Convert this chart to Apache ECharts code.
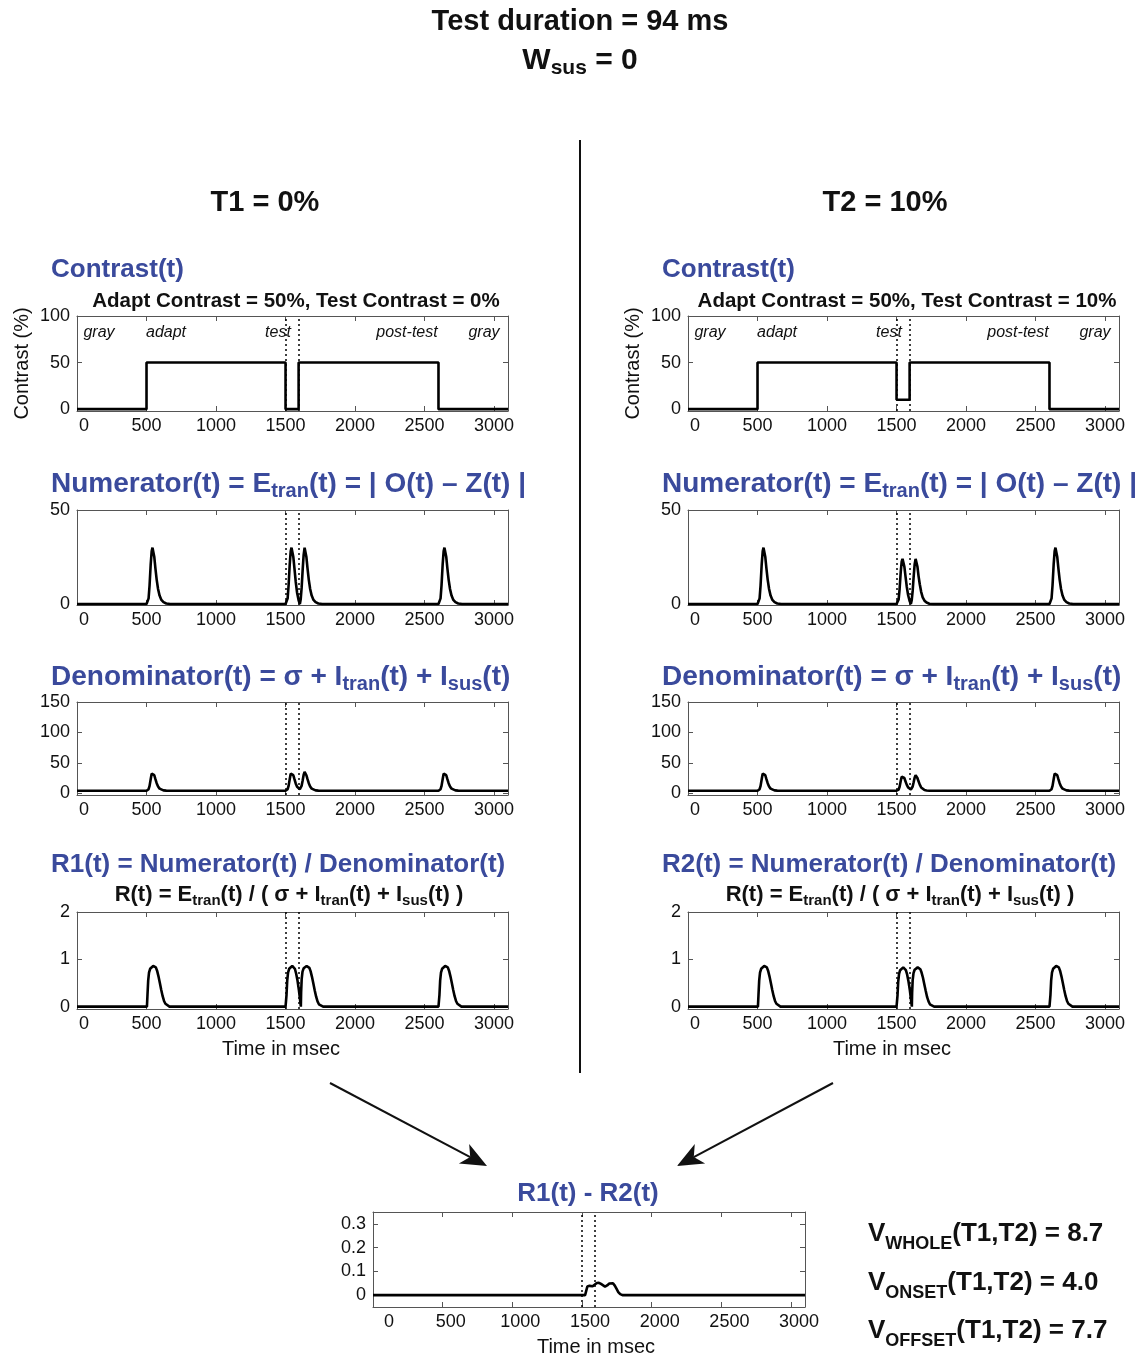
<!DOCTYPE html>
<html>
<head>
<meta charset="utf-8">
<script src="https://cdn.jsdelivr.net/npm/echarts@6/dist/echarts.min.js"></script>
<style>
  html, body { margin: 0; padding: 0; background: #fff; }
  #chart { width: 1144px; height: 1354px; }
</style>
</head>
<body>
<div id="chart"></div>
<script>
// ---- stimulus settings ----
const testDurationMs = 94;
const wSus = 0;
const adaptContrast = 50;
const testContrasts = [0, 10];          // T1, T2
const testWindow = [1500, 1594];        // test onset / offset (ms)
const timeTicks = [0, 500, 1000, 1500, 2000, 2500, 3000];
const phaseNames = ['gray', 'adapt', 'test', 'post-test', 'gray'];
const vNames = ['WHOLE', 'ONSET', 'OFFSET'];
const vValues = [8.7, 4.0, 7.7];

// ---- time courses: [time (ms), value] ----
const contrastT1 = [[0,0],[500,0],[500,50],[1500,50],[1500,0],[1594,0],[1594,50],[2600,50],[2600,0],[3100,0]];
const contrastT2 = [[0,0],[500,0],[500,50],[1500,50],[1500,10],[1594,10],[1594,50],[2600,50],[2600,0],[3100,0]];

const numeratorT1 = [[0,0],[500,0],[508,0.5],[515,3],[522,10],[530,21],[537,28],[543,30],[549,29],[556,25],[564,19],[573,13],[583,8],[594,4.5],[607,2.2],[622,1],[642,0.3],[670,0],
  [1500,0],[1508,0.5],[1515,3],[1522,10],[1530,21],[1537,28],[1543,30],[1549,29],[1556,25],[1564,19],[1573,12],[1583,6],[1594,2],[1603,0],
  [1609,2.5],[1616,9],[1623,18],[1630,26],[1637,30],[1643,29],[1650,25],[1658,19],[1667,13],[1677,8],[1688,4.5],[1701,2.2],[1716,1],[1736,0.3],[1764,0],
  [2600,0],[2608,0.5],[2615,3],[2622,10],[2630,21],[2637,28],[2643,30],[2649,29],[2656,25],[2664,19],[2673,13],[2683,8],[2694,4.5],[2707,2.2],[2722,1],[2742,0.3],[2770,0],[3100,0]];
const numeratorT2 = [[0,0],[500,0],[508,0.5],[515,3],[522,10],[530,21],[537,28],[543,30],[549,29],[556,25],[564,19],[573,13],[583,8],[594,4.5],[607,2.2],[622,1],[642,0.3],[670,0],
  [1500,0],[1508,0.4],[1515,2.4],[1522,8],[1530,17],[1537,22.5],[1543,24],[1549,23.2],[1556,20],[1564,15],[1573,9.5],[1583,4.8],[1594,1.6],[1603,0],
  [1609,2],[1616,7],[1623,14.5],[1630,21],[1637,24],[1643,23.2],[1650,20],[1658,15],[1667,10.5],[1677,6.5],[1688,3.6],[1701,1.8],[1716,0.8],[1736,0.2],[1764,0],
  [2600,0],[2608,0.5],[2615,3],[2622,10],[2630,21],[2637,28],[2643,30],[2649,29],[2656,25],[2664,19],[2673,13],[2683,8],[2694,4.5],[2707,2.2],[2722,1],[2742,0.3],[2770,0],[3100,0]];

const denominatorT1 = [[0,4],[500,4],[508,4.4],[515,6.5],[522,12],[530,23],[537,32],[543,35],[549,34],[556,29.5],[564,23],[573,16.5],[583,11],[594,7.5],[607,5.5],[622,4.6],[642,4.2],[670,4],
  [1500,4],[1508,4.4],[1515,6.5],[1522,12],[1530,23],[1537,32],[1543,35],[1549,34],[1556,29.5],[1564,23],[1573,16],[1583,10.5],[1594,7.5],[1603,6.5],
  [1609,7.5],[1616,12.5],[1623,21],[1630,30],[1637,35],[1643,34],[1650,29.5],[1658,23],[1667,16.5],[1677,11],[1688,7.5],[1701,5.5],[1716,4.6],[1736,4.2],[1764,4],
  [2600,4],[2608,4.4],[2615,6.5],[2622,12],[2630,23],[2637,32],[2643,35],[2649,34],[2656,29.5],[2664,23],[2673,16.5],[2683,11],[2694,7.5],[2707,5.5],[2722,4.6],[2742,4.2],[2770,4],[3100,4]];
const denominatorT2 = [[0,4],[500,4],[508,4.4],[515,6.5],[522,12],[530,23],[537,32],[543,35],[549,34],[556,29.5],[564,23],[573,16.5],[583,11],[594,7.5],[607,5.5],[622,4.6],[642,4.2],[670,4],
  [1500,4],[1508,4.3],[1515,6],[1522,10.5],[1530,20],[1537,27],[1543,29.5],[1549,28.5],[1556,25],[1564,19.5],[1573,14],[1583,9.5],[1594,7],[1603,6],
  [1609,7],[1616,11],[1623,18],[1630,25.5],[1637,29.5],[1643,28.5],[1650,25],[1658,19.5],[1667,14],[1677,9.5],[1688,6.8],[1701,5.2],[1716,4.5],[1736,4.1],[1764,4],
  [2600,4],[2608,4.4],[2615,6.5],[2622,12],[2630,23],[2637,32],[2643,35],[2649,34],[2656,29.5],[2664,23],[2673,16.5],[2683,11],[2694,7.5],[2707,5.5],[2722,4.6],[2742,4.2],[2770,4],[3100,4]];

const responseT1 = [[0,0],[503,0],[507,0.25],[512,0.55],[518,0.72],[526,0.8],[536,0.84],[548,0.86],[558,0.86],[567,0.83],[576,0.76],[586,0.64],[596,0.5],[606,0.35],[616,0.22],[626,0.12],[636,0.06],[648,0.02],[665,0],
  [1500,0],[1503,0],[1507,0.25],[1512,0.55],[1518,0.72],[1526,0.8],[1536,0.84],[1548,0.86],[1558,0.85],[1567,0.8],[1576,0.7],[1586,0.55],[1596,0.35],[1603,0.18],[1608,0.05],[1610,0],
  [1612,0.3],[1616,0.58],[1622,0.74],[1630,0.81],[1640,0.85],[1652,0.86],[1662,0.85],[1671,0.82],[1680,0.75],[1690,0.63],[1700,0.49],[1710,0.34],[1720,0.21],[1730,0.11],[1740,0.05],[1752,0.015],[1770,0],
  [2600,0],[2603,0],[2607,0.25],[2612,0.55],[2618,0.72],[2626,0.8],[2636,0.84],[2648,0.86],[2658,0.86],[2667,0.83],[2676,0.76],[2686,0.64],[2696,0.5],[2706,0.35],[2716,0.22],[2726,0.12],[2736,0.06],[2748,0.02],[2765,0],[3100,0]];
const responseT2 = [[0,0],[503,0],[507,0.25],[512,0.55],[518,0.72],[526,0.8],[536,0.84],[548,0.86],[558,0.86],[567,0.83],[576,0.76],[586,0.64],[596,0.5],[606,0.35],[616,0.22],[626,0.12],[636,0.06],[648,0.02],[665,0],
  [1500,0],[1503,0],[1507,0.24],[1512,0.53],[1518,0.69],[1526,0.77],[1536,0.81],[1548,0.83],[1558,0.82],[1567,0.77],[1576,0.68],[1586,0.53],[1596,0.34],[1603,0.17],[1608,0.05],[1610,0],
  [1612,0.29],[1616,0.56],[1622,0.71],[1630,0.78],[1640,0.82],[1652,0.83],[1662,0.82],[1671,0.79],[1680,0.72],[1690,0.61],[1700,0.47],[1710,0.33],[1720,0.2],[1730,0.11],[1740,0.05],[1752,0.015],[1770,0],
  [2600,0],[2603,0],[2607,0.25],[2612,0.55],[2618,0.72],[2626,0.8],[2636,0.84],[2648,0.86],[2658,0.86],[2667,0.83],[2676,0.76],[2686,0.64],[2696,0.5],[2706,0.35],[2716,0.22],[2726,0.12],[2736,0.06],[2748,0.02],[2765,0],[3100,0]];

const responseDiff = [[0,0],[1522,0],[1530,0.018],[1538,0.036],[1546,0.042],[1554,0.039],[1564,0.035],[1576,0.037],[1590,0.045],[1606,0.051],[1621,0.052],[1636,0.047],[1650,0.04],[1665,0.036],[1680,0.041],[1696,0.049],[1710,0.053],[1722,0.05],[1735,0.04],[1748,0.026],[1760,0.013],[1774,0.004],[1790,0],[3100,0]];

// ---- look ----
const FONT = '"Liberation Sans", Arial, Helvetica, sans-serif';
const BLUE = '#3a4a9c';
const INK = '#111111';
const FRAME = '#555555';

// ---- panel layout ----
const colLeft = [77, 688];
const rows = [
  { top: 316, height: 95, min: -2, max: 100, ticks: [0, 50, 100] },
  { top: 510, height: 95, min: -0.5, max: 50, ticks: [0, 50] },
  { top: 702, height: 93, min: -3, max: 150, ticks: [0, 50, 100, 150] },
  { top: 912, height: 97, min: -0.05, max: 2, ticks: [0, 1, 2] }
];
const columnData = [
  [contrastT1, numeratorT1, denominatorT1, responseT1],
  [contrastT2, numeratorT2, denominatorT2, responseT2]
];

const grids = [], xAxes = [], yAxes = [], series = [];

// x labels: the zero label sits a little right of its tick; shiftAll nudges every label
function timeLabel(zeroPad, allPad) {
  const base = { fontSize: 18, color: INK, fontFamily: FONT };
  return {
    customValues: timeTicks, margin: 6, fontSize: 18, color: INK, fontFamily: FONT,
    formatter: v => (v === 0 ? '{z|0}' : '{n|' + v + '}'),
    rich: {
      z: Object.assign({ padding: [0, 0, 0, zeroPad] }, base),
      n: Object.assign({ padding: [0, 0, 0, allPad] }, base)
    }
  };
}

function addPanel(rect, yRange, data, yName, labelShift) {
  const gi = grids.length;
  grids.push({ left: rect.left, top: rect.top, width: rect.width, height: rect.height,
    containLabel: false, outerBoundsMode: 'none', show: false });
  const line = { show: true, onZero: false, lineStyle: { color: FRAME, width: 1 } };
  const tick = (vals) => ({ show: true, inside: true, length: 5, customValues: vals, lineStyle: { color: FRAME, width: 1 } });
  const xi = xAxes.length, yi = yAxes.length;
  const xBase = { type: 'value', gridIndex: gi, min: 0, max: 3100, axisLine: line, splitLine: { show: false } };
  xAxes.push(Object.assign({}, xBase, { position: 'bottom', axisTick: tick(timeTicks),
    axisLabel: timeLabel(labelShift[0], labelShift[1]) }));
  xAxes.push(Object.assign({}, xBase, { position: 'top', axisTick: tick(timeTicks), axisLabel: { show: false } }));
  const yBase = { type: 'value', gridIndex: gi, min: yRange.min, max: yRange.max, axisLine: line, splitLine: { show: false } };
  const yLeft = Object.assign({}, yBase, { position: 'left', axisTick: tick(yRange.ticks),
    axisLabel: { customValues: yRange.ticks, formatter: v => String(v), fontSize: 18, color: INK, fontFamily: FONT, margin: 7 } });
  if (yName) {
    Object.assign(yLeft, { name: yName, nameLocation: 'middle', nameGap: 45,
      nameTextStyle: { fontSize: 20, color: INK, fontFamily: FONT } });
  }
  yAxes.push(yLeft);
  yAxes.push(Object.assign({}, yBase, { position: 'right', axisTick: tick(yRange.ticks), axisLabel: { show: false } }));
  series.push({
    type: 'line', xAxisIndex: xi, yAxisIndex: yi, data: data,
    showSymbol: false, symbol: 'none', animation: false,
    lineStyle: { color: '#000', width: 2.6 },
    markLine: {
      silent: true, symbol: ['none', 'none'], animation: false,
      label: { show: false },
      lineStyle: { type: [2, 3], color: '#000', width: 1.5 },
      data: testWindow.map(t => ({ xAxis: t }))
    }
  });
}

columnData.forEach((col, c) => {
  col.forEach((data, r) => {
    const row = rows[r];
    addPanel({ left: colLeft[c], top: row.top, width: 431, height: row.height }, row, data,
      r === 0 ? 'Contrast (%)' : null, [14, 0]);
  });
});
addPanel({ left: 373, top: 1212, width: 432, height: 95 },
  { min: -0.05, max: 0.35, ticks: [0, 0.1, 0.2, 0.3] }, responseDiff, null, [32, 16]);

// ---- text ----
function richSet(color, main, sub, drop, weight) {
  return {
    m: { fontFamily: FONT, fontSize: main, fontWeight: weight, fill: color, verticalAlign: 'middle' },
    s: { fontFamily: FONT, fontSize: sub, fontWeight: weight, fill: color, verticalAlign: 'middle', padding: [drop, 0, 0, 0] }
  };
}
function text(x, y, str, opts) {
  const o = Object.assign({ color: INK, size: 26, sub: 18, drop: 14, weight: 'bold', align: 'left', italic: false }, opts || {});
  return {
    type: 'text', x: x, y: y, silent: true, z: 10,
    style: {
      text: str, rich: richSet(o.color, o.size, o.sub, o.drop, o.weight),
      font: (o.italic ? 'italic ' : '') + o.weight + ' ' + o.size + 'px ' + FONT,
      fill: o.color, align: o.align, verticalAlign: 'middle'
    }
  };
}

const graphics = [];
graphics.push(text(580, 22, '{m|Test duration = ' + testDurationMs + ' ms}', { size: 29, align: 'center' }));
graphics.push(text(580, 61, '{m|W}{s|sus}{m| = ' + wSus + '}', { size: 30, sub: 21, drop: 15, align: 'center' }));

const titleX = [51, 662];
const colCenter = [265, 885];
const subCenter = [296, 907];
const formulaCenter = [289, 900];
const timeCenter = [281, 892];
const phaseX = [99, 166, 278, 407, 484];

[0, 1].forEach(c => {
  const dx = colLeft[c] - colLeft[0];
  graphics.push(text(colCenter[c], 203, '{m|T' + (c + 1) + ' = ' + testContrasts[c] + '%}', { size: 29, align: 'center' }));
  graphics.push(text(titleX[c], 270, '{m|Contrast(t)}', { color: BLUE }));
  graphics.push(text(subCenter[c], 301, '{m|Adapt Contrast = ' + adaptContrast + '%, Test Contrast = ' + testContrasts[c] + '%}', { size: 20.5, align: 'center' }));
  phaseNames.forEach((name, i) => {
    graphics.push(text(phaseX[i] + dx, 333, name, { size: 16, weight: 'normal', italic: true, align: 'center' }));
  });
  graphics.push(text(titleX[c], 484, '{m|Numerator(t) = E}{s|tran}{m|(t) = | O(t) – Z(t) |}', { color: BLUE, size: 28, sub: 20, drop: 15 }));
  graphics.push(text(titleX[c], 677, '{m|Denominator(t) = σ + I}{s|tran}{m|(t) + I}{s|sus}{m|(t)}', { color: BLUE, size: 28, sub: 20, drop: 15 }));
  graphics.push(text(titleX[c], 865, '{m|R' + (c + 1) + '(t) = Numerator(t) / Denominator(t)}', { color: BLUE }));
  graphics.push(text(formulaCenter[c], 895, '{m|R(t) = E}{s|tran}{m|(t) / ( σ + I}{s|tran}{m|(t) + I}{s|sus}{m|(t) )}', { size: 22, sub: 15, drop: 12, align: 'center' }));
  graphics.push(text(timeCenter[c], 1049, 'Time in msec', { size: 20, weight: 'normal', align: 'center' }));
});

graphics.push(text(588, 1194, '{m|R1(t) - R2(t)}', { color: BLUE, align: 'center' }));
graphics.push(text(596, 1347, 'Time in msec', { size: 20, weight: 'normal', align: 'center' }));
vNames.forEach((n, i) => {
  graphics.push(text(868, 1234 + i * 48.5, '{m|V}{s|' + n + '}{m|(T1,T2) = ' + vValues[i].toFixed(1) + '}', { size: 26, sub: 18, drop: 21 }));
});

// divider between the two conditions
graphics.push({ type: 'line', silent: true, shape: { x1: 580, y1: 140, x2: 580, y2: 1073 }, style: { stroke: INK, lineWidth: 2 } });

// arrows converging on the difference panel
function arrow(x1, y1, x2, y2) {
  const dx = x2 - x1, dy = y2 - y1, len = Math.hypot(dx, dy);
  const ux = dx / len, uy = dy / len, px = -uy, py = ux;
  const headLen = 26, half = 11, notch = 19;
  const bx = x2 - headLen * ux, by = y2 - headLen * uy;
  const nx = x2 - notch * ux, ny = y2 - notch * uy;
  return [
    { type: 'line', silent: true, shape: { x1: x1, y1: y1, x2: nx, y2: ny }, style: { stroke: INK, lineWidth: 2 } },
    { type: 'polygon', silent: true, shape: { points: [[x2, y2], [bx + half * px, by + half * py], [nx, ny], [bx - half * px, by - half * py]] }, style: { fill: INK } }
  ];
}
graphics.push(...arrow(330, 1083, 487, 1166));
graphics.push(...arrow(833, 1083, 677, 1166));

const chart = echarts.init(document.getElementById('chart'), null, { renderer: 'canvas' });
chart.setOption({
  animation: false,
  backgroundColor: '#ffffff',
  grid: grids,
  xAxis: xAxes,
  yAxis: yAxes,
  series: series,
  graphic: { elements: graphics }
});
</script>
</body>
</html>
